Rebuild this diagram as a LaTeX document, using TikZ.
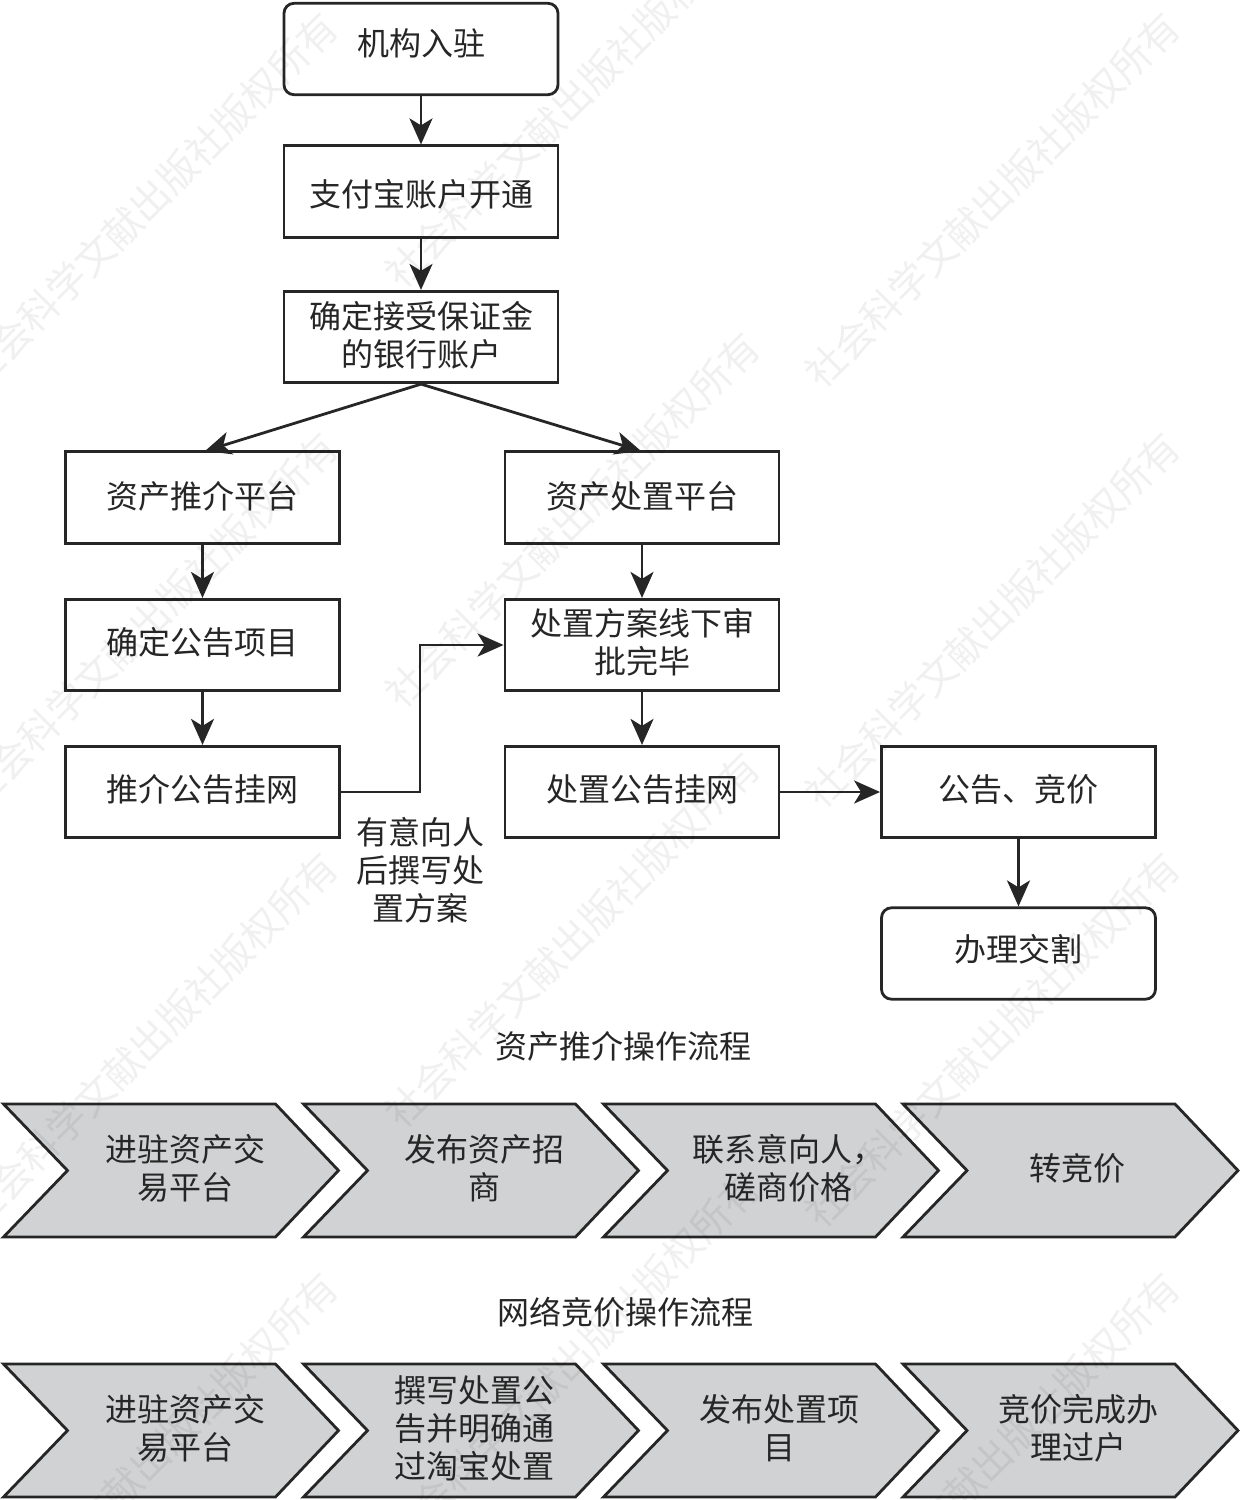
\documentclass[tikz,border=0pt]{standalone}
\usepackage{fontspec}
\newfontfamily\cjk{Noto Sans CJK SC}
\usetikzlibrary{arrows.meta}
\definecolor{ink}{HTML}{262626}
\definecolor{chev}{HTML}{D0D2D3}
\newcommand{\dn}[1]{\rule[-#1]{0pt}{0pt}}
\newcommand{\hh}[1]{\rule{0pt}{#1}}
\tikzset{
  base/.style={text=ink,font=\cjk\fontsize{16}{19}\selectfont,align=center,inner sep=0pt},
  flowbox/.style={base,draw=ink,line width=1.4pt,fill=white,minimum width=137pt,minimum height=45.7pt},
  roundbox/.style={flowbox,rounded corners=5pt},
  lbl/.style={base},
  conn/.style={draw=ink,line width=1.4pt,-{Stealth[length=13pt,width=11.5pt,inset=3.5pt]}},
  chevshape/.style={draw=ink,fill=chev,line width=1.4pt,line join=miter},
  wm/.style={text=black,opacity=0.06,font=\cjk\fontsize{19.6}{20}\selectfont,rotate=45,inner sep=0pt}
}
\newcommand{\chevron}[2]{% left x, top y
  \draw[chevshape] (#1,#2) -- (#1+272,#2) -- (#1+335,#2+66.5) -- (#1+272,#2+133) -- (#1,#2+133) -- (#1+64,#2+66.5) -- cycle;}
\begin{document}
\begin{tikzpicture}[x=0.5pt,y=-0.5pt]
\useasboundingbox (0,0) rectangle (1239,1500);
% flow boxes
\node[roundbox] (b1) at (421,49) {机构入驻\dn{7pt}};
\node[flowbox] (b2) at (421,191.5) {\hh{16pt}支付宝账户开通};
\node[flowbox] (b3) at (421,337) {确定接受保证金\\的银行账户\dn{3pt}};
\node[flowbox] (l1) at (202.5,497.5) {资产推介平台\dn{3pt}};
\node[flowbox] (l2) at (202.5,645) {确定公告项目\dn{4pt}};
\node[flowbox] (l3) at (202.5,792) {推介公告挂网\dn{4pt}};
\node[flowbox] (r1) at (642,497.5) {资产处置平台\dn{3pt}};
\node[flowbox] (r2) at (642,645) {处置方案线下审\\批完毕\dn{4.4pt}};
\node[flowbox] (r3) at (642,792) {处置公告挂网\dn{4pt}};
\node[flowbox] (f1) at (1018.5,792) {公告、竞价\dn{4pt}};
\node[roundbox] (f2) at (1018.5,953.5) {办理交割\dn{6pt}};
\node[lbl] (note) at (420,870) {有意向人\\后撰写处\\置方案};
% connectors
\coordinate (splitL) at (205,451);
\coordinate (splitR) at (641,451);
\draw[conn] (b1.south) -- (b2.north);
\draw[conn] (b2.south) -- (b3.north);
\draw[conn] (b3.south) -- (splitL);
\draw[conn] (b3.south) -- (splitR);
\draw[conn] (l1.south) -- (l2.north);
\draw[conn] (l2.south) -- (l3.north);
\draw[conn] (r1.south) -- (r2.north);
\draw[conn] (r2.south) -- (r3.north);
\draw[conn] (l3.east) -- (420,792) -- (420,645) -- (r2.west);
\draw[conn] (r3.east) -- (f1.west);
\draw[conn] (f1.south) -- (f2.north);
% titles
\node[lbl] (t1) at (623,1046) {资产推介操作流程};
\node[lbl] (t2) at (625,1312) {网络竞价操作流程};
% chevrons
\chevron{3.5}{1104}\chevron{303.5}{1104}\chevron{603.5}{1104}\chevron{903}{1104}
\chevron{3.5}{1364}\chevron{303.5}{1364}\chevron{603.5}{1364}\chevron{903}{1364}
\node[lbl] (c1) at (185,1168) {进驻资产交\\易平台};
\node[lbl] (c2) at (484,1168) {发布资产招\\商};
\node[lbl] (c3) at (788,1168) {联系意向人，\\磋商价格};
\node[lbl] (c4) at (1077,1168) {转竞价};
\node[lbl] (d1) at (185,1428) {进驻资产交\\易平台};
\node[lbl] (d2) at (474,1428) {撰写处置公\\告并明确通\\过淘宝处置};
\node[lbl] (d3) at (779,1428) {发布处置项\\目};
\node[lbl] (d4) at (1078,1428) {竞价完成办\\理过户};
% watermark
\foreach \x/\y/\i in {150/200/a,150/620/b,150/1040/c,150/1460/d,572/100/e,572/520/f,572/940/g,572/1360/h,992/200/i,992/620/j,992/1040/k,992/1460/l}{
  \node[wm] (wm\i) at (\x,\y) {社会科学文献出版社版权所有};
}
\end{tikzpicture}
\end{document}
